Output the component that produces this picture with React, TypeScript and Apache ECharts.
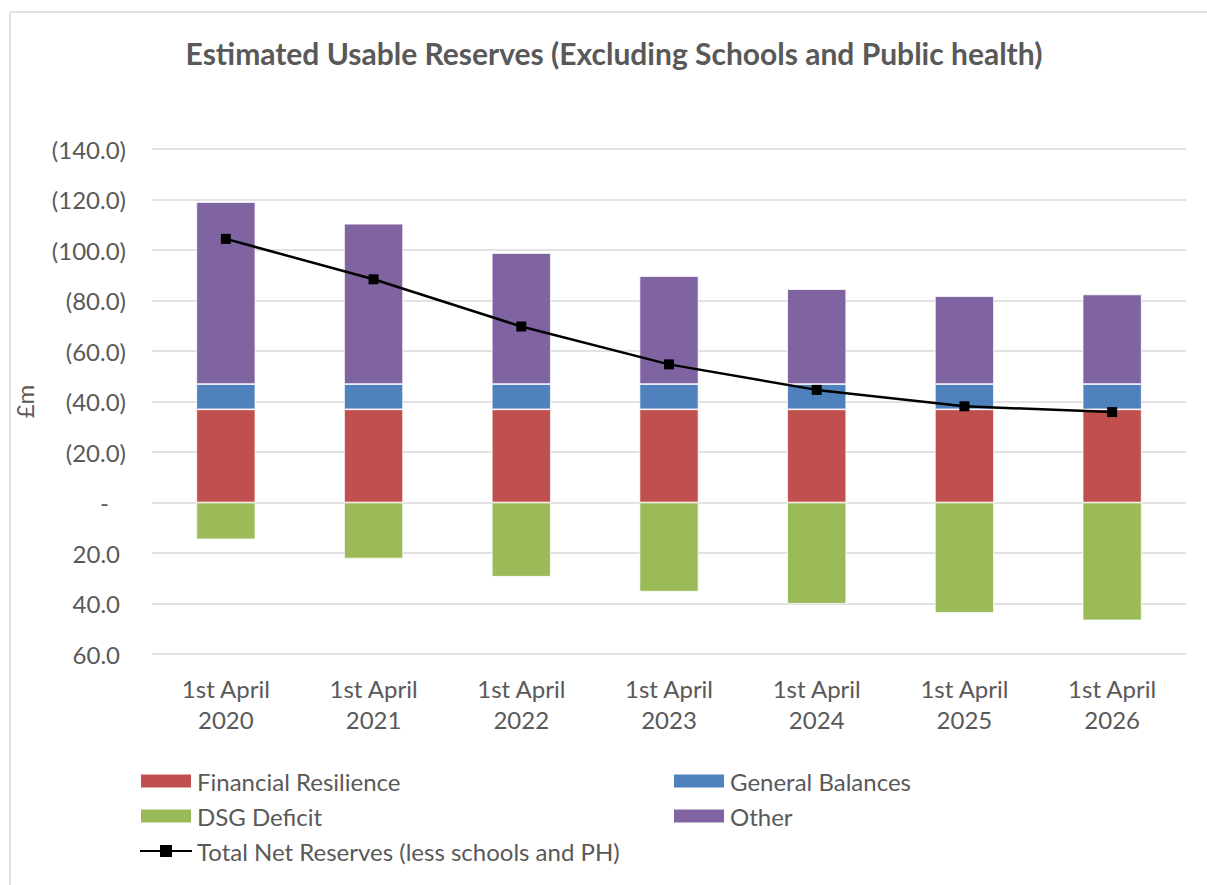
import React, { useEffect, useRef } from "react";
import * as echarts from "echarts";

const categories = [
  "1st April\n2020",
  "1st April\n2021",
  "1st April\n2022",
  "1st April\n2023",
  "1st April\n2024",
  "1st April\n2025",
  "1st April\n2026",
];
const financialResilience = [36.9, 36.9, 36.9, 36.9, 36.9, 36.9, 36.9];
const generalBalances = [10.0, 10.0, 10.0, 10.0, 10.0, 10.0, 10.0];
const dsgDeficit = [-14.6, -22.2, -29.4, -35.3, -40.1, -43.7, -46.7];
const other = [72.1, 63.5, 51.9, 42.8, 37.6, 34.8, 35.5];
const totalNet = [104.4, 88.4, 69.7, 54.7, 44.6, 38.1, 35.8];

const FONT = "Lato";
const GREY = "#595959";
const FS = 24;

export default function App() {
  const ref = useRef<HTMLDivElement>(null);
  useEffect(() => {
    if (!ref.current) return;
    document.body.style.overflow = "hidden";
    const chart = echarts.init(ref.current, undefined, { renderer: "svg" });
    const legendBase = {
      orient: "horizontal",
      padding: 0,
      itemWidth: 52,
      itemHeight: 15,
      textStyle: { fontFamily: FONT, fontSize: FS, color: GREY },
      selectedMode: false,
    };
    const fmt = (v: number) => {
      if (Math.abs(v) < 1e-9) return "{z|-}";
      if (v > 0) return "{p|(" + v.toFixed(1) + ")}";
      return "{n|" + (-v).toFixed(1) + "}";
    };
    const labelRich = {
      p: { fontFamily: FONT, fontSize: FS, color: GREY },
      n: { fontFamily: FONT, fontSize: FS, color: GREY, padding: [0, 6, 0, 0] },
      z: { fontFamily: FONT, fontSize: FS, color: GREY, padding: [0, 17, 0, 0] },
    };
    chart.setOption({
      animation: false,
      backgroundColor: "#ffffff",
      graphic: [
        {
          type: "line",
          shape: { x1: 10, y1: 12, x2: 1207, y2: 12 },
          style: { stroke: "#d9d9d9", lineWidth: 1.5 },
          silent: true,
        },
        {
          type: "line",
          shape: { x1: 10, y1: 12, x2: 10, y2: 885 },
          style: { stroke: "#d9d9d9", lineWidth: 1.5 },
          silent: true,
        },
        {
          type: "text",
          x: 614,
          y: 53,
          style: {
            text: "Estimated Usable Reserves (Excluding Schools and Public health)",
            fontFamily: FONT,
            fontWeight: "bold",
            fontSize: 30,
            fill: GREY,
            textAlign: "center",
            textVerticalAlign: "middle",
          },
        },
      ],
      legend: [
        { ...legendBase, left: 139, top: 769, icon: "rect", data: ["Financial Resilience"] },
        { ...legendBase, left: 672, top: 769, icon: "rect", data: ["General Balances"] },
        { ...legendBase, left: 139, top: 804, icon: "rect", data: ["DSG Deficit"] },
        { ...legendBase, left: 672, top: 804, icon: "rect", data: ["Other"] },
        {
          ...legendBase,
          left: 139,
          top: 839,
          data: ["Total Net Reserves (less schools and PH)"],
        },
      ],
      grid: { left: 152, right: 21, top: 149, bottom: 231, containLabel: false },
      xAxis: {
        type: "category",
        data: categories,
        axisLine: { show: false },
        axisTick: { show: false },
        axisLabel: {
          fontFamily: FONT,
          fontSize: FS,
          color: GREY,
          lineHeight: 31,
          margin: 19,
          interval: 0,
        },
      },
      yAxis: {
        type: "value",
        min: -60,
        max: 140,
        interval: 20,
        name: "£m",
        nameLocation: "middle",
        nameGap: 116,
        nameRotate: 90,
        nameTextStyle: { fontFamily: FONT, fontSize: FS, color: GREY },
        axisLine: { show: false },
        axisTick: { show: false },
        splitLine: { lineStyle: { color: "#d9d9d9", width: 1.5 } },
        axisLabel: {
          margin: 26,
          formatter: fmt,
          rich: labelRich,
        },
      },
      series: [
        {
          name: "Financial Resilience",
          type: "bar",
          stack: "r",
          barWidth: "40%",
          data: financialResilience,
          itemStyle: { color: "#C0504D", borderColor: "#ffffff", borderWidth: 0.75 },
        },
        {
          name: "General Balances",
          type: "bar",
          stack: "r",
          data: generalBalances,
          itemStyle: { color: "#4F81BD", borderColor: "#ffffff", borderWidth: 0.75 },
        },
        {
          name: "DSG Deficit",
          type: "bar",
          stack: "r",
          data: dsgDeficit,
          itemStyle: { color: "#9BBB59", borderColor: "#ffffff", borderWidth: 0.75 },
        },
        {
          name: "Other",
          type: "bar",
          stack: "r",
          data: other,
          itemStyle: { color: "#8064A2", borderColor: "#ffffff", borderWidth: 0.75 },
        },
        {
          name: "Total Net Reserves (less schools and PH)",
          type: "line",
          data: totalNet,
          symbol: "rect",
          symbolSize: 10,
          lineStyle: { color: "#000000", width: 2.5 },
          itemStyle: { color: "#000000" },
          z: 10,
        },
      ],
    });
    return () => chart.dispose();
  }, []);
  return (
    <div
      ref={ref}
      style={{ position: "fixed", left: 0, top: 0, width: 1207, height: 885 }}
    />
  );
}
